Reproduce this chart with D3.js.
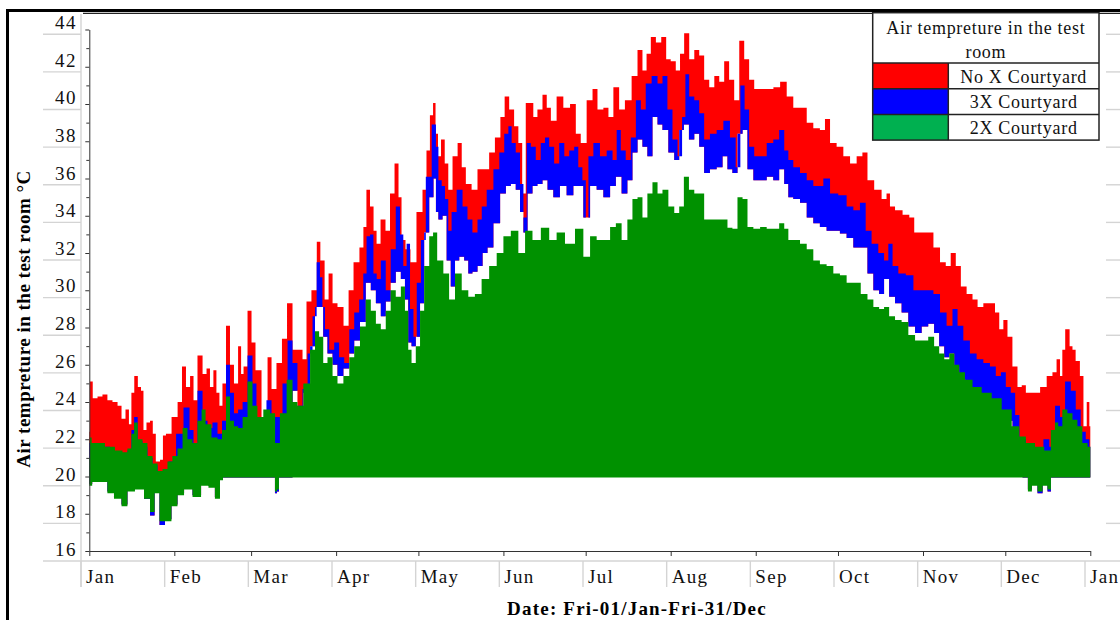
<!DOCTYPE html>
<html>
<head>
<meta charset="utf-8">
<script src="https://cdn.jsdelivr.net/npm/d3@7"></script>
<style>
  body { margin: 0; background: #fff; }
  svg { display: block; font-family: "Liberation Serif", "Times New Roman", serif; }
</style>
</head>
<body>
<div id="chart"></div>
<script>
const width = 1120;
const height = 620;

// Envelopes of the hourly series: [day of year, °C]
const redTop = [[0,22.4],[0.4,25.1],[2.1,24.2],[3.9,24.3],[5.7,24.4],[7.5,24.1],[9.4,24.0],[11.2,23.8],[12.3,23.1],[14.1,23.6],[14.8,22.8],[15.9,24.5],[16.9,25.4],[18.5,24.8],[19.2,24.6],[20.3,22.5],[21.4,22.9],[22.9,23.0],[23.4,22.3],[25.1,20.8],[26.5,20.9],[27.2,22.2],[28.7,22.3],[31.3,23.2],[33.1,24.0],[34.5,25.9],[36.0,24.8],[37.5,25.4],[38.5,24.1],[40.4,26.5],[42.2,25.5],[43.3,25.8],[44.7,24.8],[45.8,25.7],[46.9,24.5],[48.0,23.8],[49.1,25.0],[50.6,28.1],[52.0,26.0],[53.5,25.0],[55.0,27.0],[55.7,25.5],[56.8,25.9],[58.6,28.9],[59.7,27.2],[61.5,25.7],[64.1,23.2],[65.9,26.4],[67.0,24.7],[69.5,26.1],[71.0,27.4],[73.2,29.3],[75.0,26.8],[76.8,26.8],[78.7,26.3],[79.7,29.4],[82.3,30.0],[83.6,32.6],[84.9,31.6],[86.7,29.5],[87.8,30.9],[89.6,29.3],[91.4,29.1],[94.0,28.1],[95.1,30.0],[97.6,31.5],[99.4,32.3],[100.5,33.4],[101.6,35.4],[103.1,34.5],[104.2,33.2],[105.3,32.5],[107.1,33.8],[108.9,33.2],[110.4,35.2],[112.2,36.8],[113.3,35.0],[114.4,32.7],[116.2,32.2],[118.0,31.5],[120.6,34.2],[122.4,35.4],[123.5,37.5],[124.9,39.4],[125.8,40.05],[126.7,38.4],[127.6,37.2],[128.9,38.1],[130.3,36.8],[131.5,35.4],[133.4,37.2],[135.2,37.9],[136.4,36.6],[138.2,35.7],[140.6,35.4],[142.5,36.5],[144.9,36.5],[146.7,37.4],[149.1,38.2],[150.7,39.3],[152.2,40.4],[154.0,39.7],[155.8,38.8],[157.1,37.9],[158.6,35.2],[159.7,40.05],[161.3,40.05],[162.5,39.3],[164.3,39.7],[166.2,40.5],[167.4,39.8],[169.2,39.1],[171.6,40.4],[174.1,39.8],[176.5,40.0],[178.3,38.4],[180.1,37.9],[182.6,40.2],[184.4,40.8],[186.2,39.7],[188.7,39.8],[189.9,39.3],[192.3,40.9],[194.1,39.7],[196.5,40.2],[199.0,41.5],[200.8,42.9],[202.6,41.8],[203.8,42.7],[205.7,43.6],[207.5,43.3],[209.6,43.6],[211.1,42.4],[212.9,42.3],[214.8,41.8],[216.0,42.7],[217.8,43.8],[219.7,42.4],[221.5,42.9],[223.3,42.6],[225.1,41.3],[227.0,40.9],[228.8,41.5],[230.6,41.2],[232.4,42.3],[234.2,41.3],[236.1,40.2],[237.9,43.4],[239.7,42.4],[241.5,41.3],[243.4,40.8],[245.8,40.8],[248.2,40.8],[250.7,40.9],[253.1,41.2],[255.5,40.4],[257.9,39.8],[260.4,39.8],[262.8,39.0],[265.2,38.7],[267.6,38.6],[268.9,39.2],[271.3,37.9],[273.7,37.7],[276.2,37.2],[278.6,36.8],[281.0,37.2],[282.8,37.4],[284.7,35.9],[287.7,35.4],[290.1,34.9],[291.3,35.2],[292.6,34.5],[295.0,34.3],[298.1,34.05],[299.9,33.9],[301.7,33.1],[304.1,33.1],[306.6,33.1],[309.0,32.3],[311.4,31.5],[313.2,31.3],[315.0,32.0],[316.9,31.3],[318.7,30.2],[321.1,29.8],[323.0,29.5],[324.8,29.1],[327.2,29.3],[329.6,29.3],[330.9,28.8],[332.7,27.9],[333.9,28.4],[335.7,27.5],[337.5,25.9],[339.4,24.8],[340.6,24.9],[342.4,24.5],[345.5,24.5],[347.9,24.8],[350.3,25.4],[352.1,25.6],[353.3,26.3],[354.6,25.4],[355.0,26.8],[356.7,27.9],[358.2,27.0],[358.8,26.8],[360.5,26.2],[361.9,25.4],[363.1,22.7],[364.3,24.0],[365,22.7]];

const blueTop = [[0,21.8],[2.1,21.6],[5.7,21.6],[9.4,21.3],[13.0,21.2],[14.8,21.4],[15.9,22.5],[16.8,23.2],[18.5,21.9],[20.3,21.6],[22.1,21.0],[24.0,20.6],[25.8,20.2],[27.6,20.3],[30.2,20.8],[33.1,22.3],[35.6,23.7],[37.5,22.5],[38.5,21.7],[40.4,24.6],[42.2,23.0],[44.0,22.6],[45.8,22.9],[47.7,22.3],[49.1,23.0],[50.6,26.0],[52.0,24.5],[53.5,23.4],[55.0,23.6],[56.8,24.0],[58.6,26.5],[60.4,25.0],[61.5,23.1],[63.3,22.4],[65.9,24.1],[67.0,23.2],[69.5,23.2],[71.4,25.0],[73.2,27.3],[75.0,26.1],[76.8,23.8],[78.7,24.7],[80.5,26.6],[82.3,28.6],[83.5,31.5],[84.7,30.7],[85.3,29.1],[86.6,27.9],[88.4,26.8],[90.2,27.2],[92.0,26.4],[93.9,26.1],[95.7,27.9],[97.5,28.8],[99.3,29.5],[100.5,30.9],[101.7,32.9],[103.0,33.0],[104.2,30.9],[105.4,30.6],[107.2,31.6],[109.0,30.0],[110.8,32.2],[112.7,34.5],[113.9,33.0],[115.1,31.3],[116.3,32.5],[117.6,29.0],[118.8,27.5],[120.0,30.4],[121.8,32.7],[123.6,36.1],[126.1,38.9],[126.7,37.7],[127.9,35.9],[129.1,35.6],[130.3,34.9],[131.5,33.2],[132.7,34.2],[135.2,35.4],[137.0,34.5],[138.8,33.8],[140.6,33.1],[142.5,33.8],[143.7,34.5],[146.1,35.4],[148.6,36.5],[150.4,37.4],[152.2,38.4],[153.4,38.8],[154.6,37.9],[156.4,37.4],[157.7,35.7],[158.9,33.9],[160.1,37.9],[161.9,37.7],[163.7,37.0],[165.5,37.9],[166.8,38.2],[168.6,37.7],[170.4,36.8],[172.3,37.9],[174.1,37.2],[175.9,37.5],[177.7,37.7],[178.9,36.6],[180.7,35.9],[181.4,33.9],[182.6,37.2],[185.0,37.9],[187.4,37.2],[189.9,37.5],[191.7,37.0],[192.9,38.6],[194.7,37.5],[196.5,37.0],[198.4,38.2],[200.2,40.2],[202.0,39.7],[203.8,41.1],[206.3,41.5],[208.1,41.1],[209.9,41.5],[211.7,39.7],[213.6,38.1],[215.4,37.2],[216.9,39.3],[217.8,41.6],[219.7,40.4],[221.5,40.2],[223.3,39.5],[225.1,38.1],[227.5,38.4],[230.0,38.6],[232.4,39.1],[234.8,38.2],[236.6,36.6],[238.2,41.0],[239.7,39.7],[241.5,37.7],[243.4,37.2],[245.8,37.2],[248.2,37.9],[250.6,38.1],[252.5,38.6],[254.3,37.5],[255.5,37.0],[257.9,36.6],[260.4,36.3],[262.8,35.9],[265.2,35.6],[266.4,35.6],[268.9,36.0],[271.3,35.2],[274.9,35.1],[277.4,34.5],[279.8,34.3],[282.2,34.7],[284.0,33.2],[286.5,32.5],[288.9,32.0],[290.7,31.6],[292.0,32.5],[293.8,31.3],[296.2,30.9],[299.3,30.8],[301.7,30.0],[304.1,30.0],[306.6,30.0],[309.0,29.8],[311.4,28.8],[313.8,28.1],[315.7,29.0],[317.5,28.1],[319.9,27.3],[322.3,26.6],[324.8,26.3],[327.2,26.1],[329.6,25.9],[331.5,25.4],[333.3,25.6],[335.1,24.8],[336.9,24.5],[338.3,23.3],[340.0,22.0],[343.0,21.5],[346.7,21.3],[349.1,22.0],[351.0,21.6],[353.3,23.8],[354.6,23.2],[357.0,25.1],[358.8,24.6],[360.6,23.6],[362.4,22.4],[364.3,22.0],[365,21.6]];

const blueLow = [[0,19.6],[2.1,19.8],[5.7,19.8],[7.5,19.2],[10.5,18.9],[13.0,18.5],[14.8,19.3],[18.5,19.4],[21.4,18.8],[22.9,17.9],[24.7,19.2],[26.5,17.4],[28.7,17.7],[31.2,18.5],[33.1,19.1],[36.0,19.4],[39.3,19.0],[42.2,19.6],[44.7,19.5],[46.9,18.9],[48.4,19.9],[49.1,19.95],[67.3,19.95],[68.1,19.1],[68.8,19.2],[69.5,19.95],[73.2,19.95],[75.0,24.6],[76.8,23.4],[79.3,24.5],[81.7,27.0],[82.9,29.1],[84.7,29.1],[85.9,27.5],[87.8,26.6],[89.6,26.0],[91.4,25.4],[93.9,25.8],[95.7,26.6],[97.5,27.3],[99.9,28.3],[101.7,30.4],[103.6,30.0],[105.4,29.3],[107.2,28.6],[109.0,29.4],[110.8,30.4],[112.7,31.0],[114.5,30.6],[115.7,29.5],[116.9,27.2],[118.1,27.0],[120.0,27.5],[121.2,29.3],[123.0,33.1],[124.9,35.0],[126.1,36.0],[126.7,34.2],[127.9,33.8],[129.7,34.0],[130.9,31.6],[132.7,30.2],[134.0,31.6],[135.8,31.8],[137.6,31.6],[138.8,30.9],[140.6,31.0],[142.5,31.3],[144.3,32.0],[146.1,32.3],[148.6,33.6],[151.0,35.2],[152.8,35.6],[154.6,35.7],[156.4,35.4],[157.7,34.2],[158.9,33.1],[160.7,35.2],[162.5,35.6],[164.3,35.7],[166.2,35.9],[168.0,35.4],[170.4,35.0],[172.8,35.6],[175.3,35.1],[177.7,35.6],[178.9,35.6],[181.4,33.9],[183.8,35.6],[186.2,35.4],[188.7,35.0],[191.1,35.6],[192.9,36.1],[195.3,35.2],[197.1,35.9],[199.0,37.4],[200.8,38.1],[202.6,37.7],[204.4,37.2],[206.3,39.3],[208.1,38.9],[209.9,38.6],[212.4,37.4],[214.2,37.0],[216.0,38.6],[217.6,38.9],[219.7,38.1],[221.5,38.4],[223.3,37.7],[225.1,36.3],[227.5,36.5],[230.0,36.6],[231.8,37.2],[233.6,36.5],[235.4,36.3],[237.3,38.4],[239.1,38.6],[240.9,36.5],[243.4,35.9],[245.8,35.9],[248.2,36.1],[250.6,35.9],[252.5,36.5],[254.3,35.7],[255.5,35.0],[257.9,34.9],[260.4,34.7],[262.8,33.9],[265.2,33.6],[267.6,33.4],[270.1,33.2],[272.5,33.2],[274.9,33.05],[277.4,32.8],[279.8,32.3],[282.8,32.3],[284.7,30.9],[287.1,30.0],[288.9,29.8],[290.7,30.6],[292.6,29.65],[295.0,29.3],[297.4,28.8],[299.9,28.05],[302.3,27.7],[304.7,28.05],[307.1,28.2],[309.0,27.7],[310.8,27.0],[312.7,26.4],[314.5,26.6],[316.3,25.9],[318.1,25.2],[321.1,24.4],[328.4,23.8],[333.9,23.0],[339.4,21.6],[341.2,19.95],[341.9,19.95],[342.6,19.3],[344.8,19.6],[346.7,19.1],[348.5,19.6],[350.3,19.2],[351.0,19.95],[365,19.95]];

const greenTop = [[0,21.0],[0.4,22.1],[1.3,21.8],[3.9,21.8],[7.5,21.6],[11.2,21.4],[13.0,21.3],[14.8,21.5],[15.9,22.3],[16.8,22.9],[18.5,22.0],[20.3,21.8],[22.1,21.1],[24.0,20.7],[25.8,20.3],[27.6,20.4],[29.4,20.8],[31.2,21.1],[33.1,21.5],[34.9,22.6],[36.7,22.0],[38.5,21.8],[40.4,23.0],[41.5,23.6],[43.3,22.8],[45.8,22.1],[47.7,22.0],[49.1,22.5],[50.6,24.3],[52.0,23.0],[53.5,22.7],[55.0,22.6],[56.8,23.2],[58.6,25.1],[60.4,23.8],[62.2,23.2],[64.7,23.6],[67.2,23.4],[68.3,21.8],[70.7,23.4],[73.2,25.2],[75.0,24.0],[76.8,23.8],[79.3,25.0],[81.7,26.8],[82.9,27.8],[84.7,27.5],[85.9,26.1],[87.8,26.4],[89.6,25.4],[91.4,25.0],[93.9,25.4],[95.7,26.4],[97.5,27.0],[99.9,28.05],[101.7,29.5],[103.6,28.9],[105.4,28.2],[107.2,27.9],[109.0,28.9],[110.8,30.0],[112.7,29.65],[114.5,30.2],[115.7,28.9],[116.9,26.8],[118.1,26.1],[120.0,27.0],[121.2,28.9],[123.0,31.3],[124.9,32.9],[125.8,33.1],[127.9,31.6],[130.3,30.9],[132.1,29.5],[134.6,30.9],[137.0,30.0],[139.4,29.65],[141.8,29.8],[144.3,30.6],[147.3,31.3],[149.8,32.0],[152.2,32.9],[155.2,33.2],[157.7,32.0],[160.1,33.2],[163.1,32.7],[166.2,33.35],[169.2,32.7],[171.6,33.1],[175.3,32.5],[178.9,33.3],[181.4,31.8],[183.8,32.9],[186.2,32.7],[188.7,32.7],[191.1,33.4],[192.9,33.6],[195.3,32.7],[197.1,33.8],[199.0,34.9],[200.8,35.0],[202.6,33.9],[204.4,35.2],[206.3,35.8],[208.1,35.2],[209.9,35.4],[212.4,34.5],[214.2,34.15],[216.0,34.5],[217.6,36.1],[219.7,35.4],[221.5,35.2],[223.3,35.2],[225.1,33.8],[227.5,33.8],[230.0,33.8],[231.8,33.8],[233.6,33.35],[235.4,33.3],[237.3,35.0],[239.1,34.9],[240.9,33.4],[243.4,33.3],[245.8,33.4],[248.2,33.3],[250.6,33.3],[252.5,33.6],[254.3,33.3],[255.5,32.7],[257.9,32.7],[260.4,32.5],[262.8,32.2],[265.2,31.6],[267.6,31.4],[270.1,31.3],[272.5,30.9],[274.9,30.8],[277.4,30.4],[279.8,30.4],[282.8,29.8],[284.7,29.5],[287.1,29.1],[288.9,29.0],[290.7,29.1],[292.6,28.6],[295.0,28.4],[297.4,28.3],[299.9,27.6],[302.3,27.3],[304.7,27.3],[307.1,27.5],[309.0,27.0],[310.8,26.6],[312.7,26.3],[314.5,26.6],[316.3,26.0],[318.1,25.6],[320.5,25.2],[323.6,24.8],[327.2,24.5],[330.9,24.2],[334.5,23.6],[338.2,22.7],[340.0,22.15],[343.0,21.8],[346.7,21.6],[349.7,21.4],[351.5,22.5],[352.7,22.9],[353.9,22.7],[355.7,23.6],[357.6,23.4],[359.4,23.05],[361.2,22.7],[363.0,21.8],[365,21.6]];

const greenLow = [[0,19.5],[2.1,19.7],[5.7,19.7],[7.5,19.1],[10.5,18.8],[13.0,18.4],[14.8,19.2],[18.5,19.3],[21.4,18.8],[22.9,18.1],[24.7,19.1],[26.5,17.6],[28.7,17.6],[31.2,18.4],[33.1,19.0],[36.0,19.3],[39.3,18.9],[42.2,19.5],[44.7,19.4],[46.9,18.8],[48.4,19.8],[49.1,19.95],[67.3,19.95],[68.1,19.2],[68.8,19.3],[69.5,19.95],[341.9,19.95],[342.6,19.2],[344.8,19.5],[346.7,19.2],[348.5,19.5],[350.3,19.3],[351.0,19.95],[365,19.95]];

const yTickValues = [16, 18, 20, 22, 24, 26, 28, 30, 32, 34, 36, 38, 40, 42, 44];
const yMinorValues = [17, 19, 21, 23, 25, 27, 29, 31, 33, 35, 37, 39, 41, 43];
const monthLabels = ["Jan", "Feb", "Mar", "Apr", "May", "Jun", "Jul", "Aug", "Sep", "Oct", "Nov", "Dec", "Jan"];
const seriesNames = ["No X Courtyard", "3X Courtyard", "2X Courtyard"];

const fillColors = ["#ff0000", "#0000ff", "#009100"];
const swatchColors = ["#ff0000", "#0000ff", "#00b050"];
const cellGray = "#d4d4d4";

const t0 = Date.UTC(2021, 0, 1);
const toDate = day => new Date(t0 + day * 864e5);

const x = d3.scaleUtc().domain([toDate(0), toDate(365)]).range([89.3, 1090.3]);
const y = d3.scaleLinear().domain([16, 44]).range([551, 29.5]);

// label cells of the axes are spaced a little differently from the ticks
const yCell = d3.scaleLinear().domain([44, 16]).range([34.3, 561]);
const xCell = d3.scalePoint().domain(d3.range(monthLabels.length)).range([81, 1085]);

const svg = d3.select("#chart").append("svg")
    .attr("width", width)
    .attr("height", height)
    .attr("viewBox", [0, 0, width, height]);

// frame
svg.append("line").attr("x1", 7.5).attr("x2", 7.5).attr("y1", 9).attr("y2", height)
    .attr("stroke", "#000").attr("stroke-width", 3);
svg.append("line").attr("x1", 6).attr("x2", width).attr("y1", 10.5).attr("y2", 10.5)
    .attr("stroke", "#000").attr("stroke-width", 3);
svg.append("line").attr("x1", 83).attr("x2", width).attr("y1", 13.3).attr("y2", 13.3)
    .attr("stroke", "#222").attr("stroke-width", 1.2);

// grey cell lines round the tick labels
const cells = svg.append("g").attr("stroke", cellGray).attr("stroke-width", 1.4);
yTickValues.filter(v => v > 16).forEach(v => {
    cells.append("line").attr("x1", 43).attr("x2", 81).attr("y1", yCell(v)).attr("y2", yCell(v));
    cells.append("line").attr("x1", 1106).attr("x2", width).attr("y1", yCell(v)).attr("y2", yCell(v));
});
cells.append("line").attr("x1", 43).attr("x2", width).attr("y1", yCell(16)).attr("y2", yCell(16));
cells.append("line").attr("x1", 81).attr("x2", 81).attr("y1", 14).attr("y2", 587);
monthLabels.forEach((m, i) => {
    cells.append("line").attr("x1", xCell(i)).attr("x2", xCell(i)).attr("y1", yCell(16)).attr("y2", 587);
});

// the three series as bands between their envelopes (stepped, like the hourly trace)
const edge = d3.line()
    .x(d => x(toDate(d[0])))
    .y(d => y(d[1]))
    .curve(d3.curveStep);

function band(top, low) {
    return edge(top.concat(low.slice().reverse())) + "Z";
}

const bands = [
    [redTop, blueLow],   // lower edge of the red series is hidden under the blue one
    [blueTop, blueLow],
    [greenTop, greenLow]
];

svg.append("g")
    .selectAll("path")
    .data(bands)
    .join("path")
    .attr("d", d => band(d[0], d[1]))
    .attr("fill", (d, i) => fillColors[i]);

// axes
const yAxis = svg.append("g")
    .attr("transform", `translate(${x.range()[0]},0)`)
    .call(d3.axisLeft(y).tickValues(yTickValues).tickSize(4).tickSizeOuter(0).tickFormat(""));
yAxis.append("g")
    .call(d3.axisLeft(y).tickValues(yMinorValues).tickSize(3).tickFormat(""))
    .select(".domain").remove();
yAxis.selectAll("path, line").attr("stroke", "#333");

const xAxis = svg.append("g")
    .attr("transform", `translate(0,${y(16)})`)
    .call(d3.axisBottom(x).ticks(d3.utcMonth.every(1)).tickSize(5).tickSizeOuter(0).tickFormat(""));
xAxis.selectAll("path, line").attr("stroke", "#333");

// tick labels
svg.append("g")
    .selectAll("text")
    .data(yTickValues)
    .join("text")
    .attr("x", 77)
    .attr("y", d => yCell(d) - 5.2)
    .attr("text-anchor", "end")
    .attr("font-size", 19)
    .attr("letter-spacing", 1.5)
    .attr("fill", "#111")
    .text(d => d);

svg.append("g")
    .selectAll("text")
    .data(monthLabels)
    .join("text")
    .attr("x", (d, i) => xCell(i) + 5)
    .attr("y", 583)
    .attr("font-size", 19)
    .attr("letter-spacing", 1.3)
    .attr("fill", "#111")
    .text(d => d);

// axis titles
svg.append("text")
    .attr("transform", "translate(30,319) rotate(-90)")
    .attr("text-anchor", "middle")
    .attr("font-size", 19)
    .attr("font-weight", "bold")
    .attr("letter-spacing", 0.5)
    .text("Air tempreture in the test room °C");

svg.append("text")
    .attr("x", 637)
    .attr("y", 615)
    .attr("text-anchor", "middle")
    .attr("font-size", 19)
    .attr("font-weight", "bold")
    .attr("letter-spacing", 1.2)
    .text("Date: Fri-01/Jan-Fri-31/Dec");

// legend table
const lg = svg.append("g").attr("font-size", 18).attr("letter-spacing", 0.7);
const lgX0 = 872.7, lgX1 = 948.3, lgX2 = 1099, lgY0 = 12.7, lgTitleH = 50.3, rowH = 25.7;

lg.append("rect")
    .attr("x", lgX0).attr("y", lgY0)
    .attr("width", lgX2 - lgX0).attr("height", lgTitleH + rowH * seriesNames.length)
    .attr("fill", "#fff");

lg.selectAll(".swatch")
    .data(seriesNames)
    .join("rect")
    .attr("class", "swatch")
    .attr("x", lgX0)
    .attr("y", (d, i) => lgY0 + lgTitleH + i * rowH)
    .attr("width", lgX1 - lgX0)
    .attr("height", rowH)
    .attr("fill", (d, i) => swatchColors[i]);

lg.selectAll(".row-label")
    .data(seriesNames)
    .join("text")
    .attr("class", "row-label")
    .attr("x", (lgX1 + lgX2) / 2)
    .attr("y", (d, i) => lgY0 + lgTitleH + i * rowH + 19.5)
    .attr("text-anchor", "middle")
    .attr("fill", "#111")
    .text(d => d);

lg.append("text")
    .attr("x", (lgX0 + lgX2) / 2).attr("y", 34)
    .attr("text-anchor", "middle").attr("fill", "#111")
    .text("Air tempreture in the test");
lg.append("text")
    .attr("x", (lgX0 + lgX2) / 2).attr("y", 57.5)
    .attr("text-anchor", "middle").attr("fill", "#111")
    .text("room");

const grid = lg.append("g").attr("stroke", "#222").attr("stroke-width", 1.5).attr("fill", "none");
grid.append("rect")
    .attr("x", lgX0).attr("y", lgY0)
    .attr("width", lgX2 - lgX0).attr("height", lgTitleH + rowH * seriesNames.length);
seriesNames.forEach((d, i) => {
    const yy = lgY0 + lgTitleH + i * rowH;
    grid.append("line").attr("x1", lgX0).attr("x2", lgX2).attr("y1", yy).attr("y2", yy);
});
grid.append("line")
    .attr("x1", lgX1).attr("x2", lgX1)
    .attr("y1", lgY0 + lgTitleH).attr("y2", lgY0 + lgTitleH + rowH * seriesNames.length);
</script>
</body>
</html>
